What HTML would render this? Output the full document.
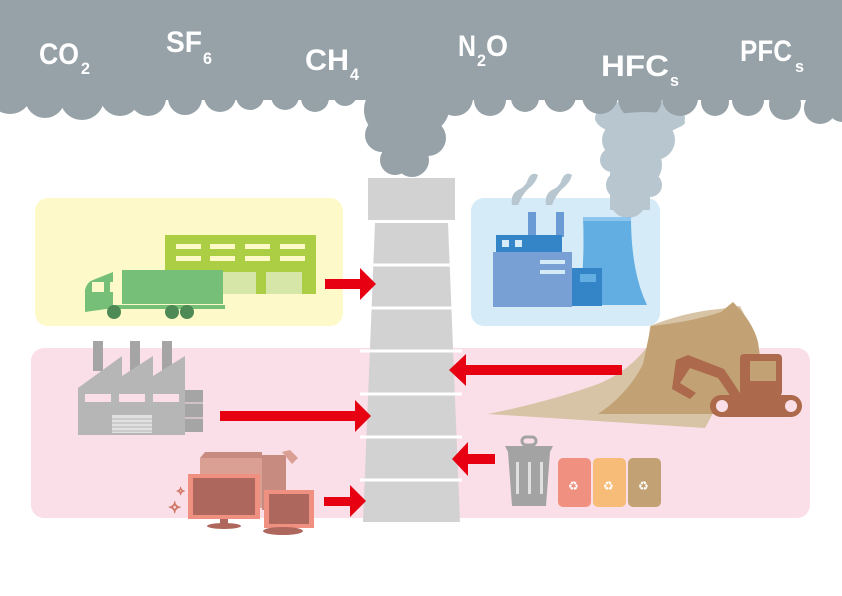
<!DOCTYPE html>
<html><head><meta charset="utf-8"><style>
html,body{margin:0;padding:0;background:#fff;}
svg{display:block;}
text{font-family:"Liberation Sans",sans-serif;font-weight:bold;fill:#fff;}
</style></head><body>
<svg width="842" height="596" viewBox="0 0 842 596" xmlns="http://www.w3.org/2000/svg">
<rect x="35" y="198" width="308" height="128" rx="13" fill="#fdf9c9"/>
<rect x="471" y="198" width="189" height="128" rx="13" fill="#d6ebf8"/>
<rect x="31" y="348" width="779" height="170" rx="13" fill="#fbdfe8"/>

<!-- light smoke -->
<g fill="#b8c6cf">
<circle cx="405" cy="0" r="1"/>
<ellipse cx="640" cy="118" rx="45" ry="18"/>
<circle cx="620" cy="140" r="18"/><circle cx="655" cy="140" r="20"/>
<circle cx="612" cy="160" r="12"/><circle cx="640" cy="165" r="22"/>
<circle cx="620" cy="185" r="14"/><circle cx="628" cy="200" r="18"/><circle cx="650" cy="185" r="12"/>
<rect x="610" y="150" width="40" height="60"/>
<path d="M512 205 q-2 -12 8 -16 q6 -3 8 -10 q4 -8 10 -4 q-2 8 -10 14 q-6 6 -10 16z"/>
<path d="M546 205 q-2 -12 8 -16 q6 -3 8 -10 q4 -8 10 -4 q-2 8 -10 14 q-6 6 -10 16z"/>
</g>

<!-- dark cloud -->
<g fill="#96a1a8">
<rect x="0" y="0" width="842" height="100"/>
<circle cx="10" cy="92" r="22"/><circle cx="45" cy="98" r="20"/><circle cx="82" cy="98" r="22"/>
<circle cx="120" cy="96" r="20"/><circle cx="148" cy="98" r="18"/><circle cx="185" cy="98" r="17"/>
<circle cx="220" cy="96" r="16"/><circle cx="250" cy="96" r="14"/><circle cx="285" cy="96" r="14"/>
<circle cx="315" cy="98" r="14"/><circle cx="345" cy="94" r="12"/>
<circle cx="392" cy="110" r="28"/><circle cx="420" cy="105" r="30"/><circle cx="382" cy="135" r="17"/>
<circle cx="405" cy="145" r="24"/><circle cx="428" cy="138" r="18"/><circle cx="395" cy="160" r="15"/>
<circle cx="412" cy="160" r="17"/>
<circle cx="455" cy="98" r="18"/><circle cx="490" cy="100" r="16"/><circle cx="525" cy="98" r="14"/>
<circle cx="560" cy="96" r="16"/><circle cx="600" cy="96" r="18"/><circle cx="640" cy="98" r="22"/>
<circle cx="680" cy="98" r="18"/><circle cx="715" cy="102" r="14"/><circle cx="748" cy="100" r="16"/>
<circle cx="785" cy="104" r="16"/><circle cx="820" cy="108" r="16"/><circle cx="842" cy="108" r="14"/>
</g>
<g fill="#b8c6cf"><ellipse cx="645" cy="122" rx="40" ry="10"/></g>

<text x="39" y="64" font-size="30" textLength="40" lengthAdjust="spacingAndGlyphs">CO</text>
<text x="81" y="74" font-size="17" textLength="9" lengthAdjust="spacingAndGlyphs">2</text>
<text x="166" y="52" font-size="30" textLength="36" lengthAdjust="spacingAndGlyphs">SF</text>
<text x="203" y="64" font-size="17" textLength="9" lengthAdjust="spacingAndGlyphs">6</text>
<text x="305" y="70" font-size="30" textLength="44" lengthAdjust="spacingAndGlyphs">CH</text>
<text x="350" y="80" font-size="17" textLength="9" lengthAdjust="spacingAndGlyphs">4</text>
<text x="458" y="56" font-size="30" textLength="18" lengthAdjust="spacingAndGlyphs">N</text>
<text x="477" y="66" font-size="17" textLength="9" lengthAdjust="spacingAndGlyphs">2</text>
<text x="486" y="56" font-size="30" textLength="22" lengthAdjust="spacingAndGlyphs">O</text>
<text x="601" y="76" font-size="30" textLength="68" lengthAdjust="spacingAndGlyphs">HFC</text>
<text x="670" y="86" font-size="17" textLength="9" lengthAdjust="spacingAndGlyphs">s</text>
<text x="740" y="61" font-size="30" textLength="52" lengthAdjust="spacingAndGlyphs">PFC</text>
<text x="795" y="72" font-size="17" textLength="9" lengthAdjust="spacingAndGlyphs">s</text>

<rect x="368" y="178" width="87" height="42" fill="#d2d2d2"/>
<polygon points="375,223 448,223 460,522 363,522" fill="#d2d2d2"/>
<g stroke="#fff" stroke-width="3">
<line x1="360" y1="265" x2="462" y2="265"/><line x1="360" y1="308" x2="462" y2="308"/>
<line x1="360" y1="351" x2="462" y2="351"/><line x1="360" y1="394" x2="462" y2="394"/>
<line x1="360" y1="437" x2="462" y2="437"/><line x1="360" y1="480" x2="462" y2="480"/>
</g>

<rect x="165" y="235" width="151" height="59" fill="#acce44"/>
<g fill="#fdf9c9"><rect x="176" y="244" width="25" height="5"/><rect x="210" y="244" width="25" height="5"/><rect x="245" y="244" width="25" height="5"/><rect x="280" y="244" width="25" height="5"/>
<rect x="176" y="256" width="25" height="5"/><rect x="210" y="256" width="25" height="5"/><rect x="245" y="256" width="25" height="5"/><rect x="280" y="256" width="25" height="5"/></g>
<g fill="#d6e6a8"><rect x="222" y="272" width="34" height="22"/><rect x="266" y="272" width="36" height="22"/></g>
<rect x="122" y="270" width="101" height="34" fill="#76bf78"/>
<path d="M85 312 v-22 q2 -8 8 -10 l20 -8 v36z" fill="#76bf78"/>
<rect x="85" y="305" width="140" height="4" fill="#76bf78"/>
<rect x="92" y="282" width="12" height="10" fill="#fdf9c9"/><rect x="110" y="282" width="6" height="10" fill="#fdf9c9"/>
<g fill="#4e8a55"><circle cx="114" cy="312" r="7"/><circle cx="172" cy="312" r="7"/><circle cx="187" cy="312" r="7"/></g>

<rect x="528" y="212" width="8" height="25" fill="#6b9bd4"/><rect x="556" y="212" width="8" height="25" fill="#6b9bd4"/>
<path d="M583 217 h48 q0 55 16 88 h-68 q6 -40 4 -88z" fill="#62aee3"/>
<rect x="583" y="217" width="48" height="4" fill="#8cc6ee"/>
<rect x="496" y="235" width="66" height="18" fill="#3385c7"/>
<rect x="493" y="252" width="79" height="55" fill="#78a0d4"/>
<rect x="572" y="268" width="30" height="38" fill="#3385c7"/>
<g fill="#d6ebf8"><rect x="502" y="240" width="7" height="7"/><rect x="515" y="240" width="7" height="7"/><rect x="540" y="260" width="25" height="4"/><rect x="540" y="270" width="25" height="4"/></g>
<rect x="580" y="274" width="16" height="8" fill="#62aee3"/>

<g fill="#a5a5a5"><rect x="93" y="341" width="10" height="30"/><rect x="130" y="341" width="10" height="30"/><rect x="162" y="341" width="10" height="30"/>
<rect x="185" y="390" width="18" height="42"/></g>
<polygon points="78,388 122,356 122,376 153,356 153,376 185,356 185,435 78,435" fill="#b6b6b6"/>
<g fill="#fbdfe8"><rect x="85" y="394" width="26" height="8"/><rect x="119" y="394" width="26" height="8"/><rect x="153" y="394" width="26" height="8"/></g>
<rect x="112" y="415" width="40" height="18" fill="#e0e0e0"/>
<g stroke="#b6b6b6" stroke-width="1"><line x1="112" y1="419" x2="152" y2="419"/><line x1="112" y1="423" x2="152" y2="423"/><line x1="112" y1="427" x2="152" y2="427"/><line x1="112" y1="431" x2="152" y2="431"/></g>
<g stroke="#fbdfe8" stroke-width="1"><line x1="185" y1="403" x2="203" y2="403"/><line x1="185" y1="418" x2="203" y2="418"/></g>

<rect x="200" y="458" width="62" height="50" fill="#daa093"/>
<polygon points="200,458 205,452 262,452 262,458" fill="#c78b80"/>
<rect x="262" y="455" width="24" height="55" fill="#c78b80"/>
<polygon points="282,452 292,464 298,458 290,450" fill="#daa093"/>
<rect x="188" y="474" width="72" height="45" fill="#f09080"/>
<rect x="193" y="478" width="62" height="37" fill="#ad675c"/>
<rect x="220" y="519" width="8" height="6" fill="#ad675c"/><ellipse cx="224" cy="526" rx="17" ry="3" fill="#ad675c"/>
<rect x="264" y="490" width="50" height="38" fill="#f09080"/>
<rect x="269" y="494" width="40" height="30" fill="#ad675c"/>
<ellipse cx="283" cy="531" rx="20" ry="4" fill="#ad675c"/>
<text x="168" y="513" font-size="16" style="fill:none;stroke:#d07866;stroke-width:1;font-weight:normal">✧</text>
<text x="176" y="495" font-size="11" style="fill:none;stroke:#d07866;stroke-width:1;font-weight:normal">✧</text>

<path d="M488 414 q60 -12 110 -30 q30 -12 50 -38 l2 -20 q30 -12 60 -16 q20 -2 30 -4 l15 30 l-50 92z" fill="#d7c3a5"/>
<path d="M598 414 q30 -20 45 -50 l8 -38 q40 -4 70 -14 l12 -10 q20 20 25 40 l10 72z" fill="#c2a274"/>
<g fill="#ad694b">
<path d="M676 360 l12 -5 l36 14 l20 30 l-8 5 l-18 -26 l-28 -10 l-10 15 l16 10 l-6 6 l-18 -10 z"/>
<rect x="740" y="354" width="42" height="42" rx="4"/>
<rect x="710" y="395" width="92" height="22" rx="11"/>
</g>
<rect x="750" y="361" width="26" height="20" fill="#c2a274"/>
<circle cx="722" cy="406" r="6" fill="#fbdfe8"/><circle cx="791" cy="406" r="6" fill="#fbdfe8"/>

<path d="M505 446 h48 l-3 6 l-4 54 h-34 l-4 -54 z" fill="#a3a3a3"/>
<rect x="522" y="437" width="14" height="8" rx="4" fill="none" stroke="#a3a3a3" stroke-width="3"/>
<g fill="#e0e0e0"><rect x="516" y="462" width="3" height="32"/><rect x="528" y="462" width="3" height="32"/><rect x="540" y="462" width="3" height="32"/></g>
<rect x="558" y="458" width="33" height="49" rx="5" fill="#f09080"/>
<rect x="593" y="458" width="33" height="49" rx="5" fill="#f7bd78"/>
<rect x="628" y="458" width="33" height="49" rx="5" fill="#c2a274"/>
<g font-size="12"><text x="568" y="490" style="font-weight:normal">♻</text><text x="603" y="490" style="font-weight:normal">♻</text><text x="638" y="490" style="font-weight:normal">♻</text></g>

<g fill="#e60012">
<rect x="325" y="279" width="36" height="10"/><polygon points="360,268 376,284 360,300"/>
<rect x="220" y="411" width="137" height="10"/><polygon points="355,400 371,416 355,432"/>
<rect x="324" y="497" width="28" height="9"/><polygon points="350,485 366,501 350,517"/>
<rect x="464" y="365" width="158" height="10"/><polygon points="466,354 449,370 466,386"/>
<rect x="466" y="454" width="29" height="10"/><polygon points="468,442 452,459 468,476"/>
</g>
</svg>
</body></html>
